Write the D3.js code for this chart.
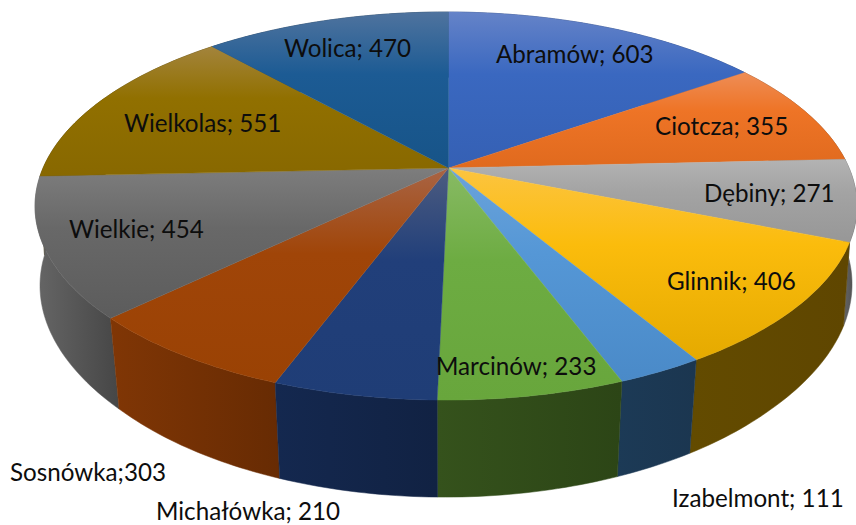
<!DOCTYPE html>
<html>
<head>
<meta charset="utf-8">
<script src="https://cdn.jsdelivr.net/npm/d3@7"></script>
<style>
    html, body { margin: 0; padding: 0; background: #fff; }
    svg { display: block; }
    text { font-family: Lato, "Open Sans", sans-serif; font-size: 24.2px; fill: #0d0d0d; }
</style>
</head>
<body>
<div id="pie"></div>
<script>
// chart values, clockwise from the top
const names = ["Abramów", "Ciotcza", "Dębiny", "Glinnik", "Izabelmont", "Marcinów", "Michałówka", "Sosnówka", "Wielkie", "Wielkolas", "Wolica"];
const values = [603, 355, 271, 406, 111, 233, 210, 303, 454, 551, 470];

// top face gradient: light edge, base, dark edge
const topLight = ["#6583c8", "#ee8d56", "#b3b3b3", "#fcc440", "#6ba3da", "#88ba64", "#4d5c80", "#a96444", "#7d7d7d", "#a3843c", "#4f739e"];
const topBase = ["#3a68c0", "#ee7426", "#a3a3a3", "#fbbc0c", "#5597d6", "#6dac42", "#213f7a", "#a04508", "#686868", "#917000", "#1c5b94"];
const topDark = ["#3560b4", "#e06a1e", "#979797", "#e5aa00", "#4a8ac8", "#68a63c", "#1f3d76", "#9a4204", "#5c5c5c", "#886800", "#175488"];

// side wall gradient, left to right
const wallLeft = ["#1f3a70", "#7f4520", "#6a6a6a", "#634b00", "#1c3a56", "#35521c", "#14284f", "#803605", "#666666", "#4c3a00", "#102d48"];
const wallRight = ["#1f3a70", "#7f4520", "#4a4a4a", "#5f4600", "#1b3650", "#2c4516", "#112243", "#672b03", "#464646", "#4c3a00", "#102d48"];

// label anchors [x, baseline]
const labelPos = [[496, 63], [655, 135], [704, 202], [667, 290], [672, 507], [436, 375], [156, 520], [10, 481], [69, 238], [124, 132], [284, 57]];

// the drawn disc runs slightly ahead of the exact angle (degrees), measured along the rim
const warpAngles = [0, 54.7, 87, 111.5, 148.4, 158.4, 179.6, 198.7, 226.2, 267.4, 317.4, 360];
const warpOffsets = [0, 0.45, 0.35, 0.3, 0.75, 0.93, 1.7, 1.85, 0, 0.2, 0.6, 0];

class PerspectivePie {

    constructor(parentElement) {
        this.parentElement = parentElement;
        this.initVis();
    }

    initVis() {
        let vis = this;

        vis.width = 856;
        vis.height = 525;

        // apex of the slices and the perspective of the disc
        vis.cx = 448.5;
        vis.cy = 168;
        vis.rx = 403;
        vis.ry = 186.6;
        vis.depth = 0.196;
        vis.skew = 0.006;
        vis.thickness = 78;
        vis.bottomScale = 0.974;
        vis.sideFlare = 0.03;

        vis.svg = d3.select("#" + vis.parentElement).append("svg")
            .attr("width", vis.width)
            .attr("height", vis.height);

        vis.defs = vis.svg.append("defs");

        vis.pie = d3.pie().sort(null).startAngle(0).endAngle(2 * Math.PI);
        vis.line = d3.line();
        vis.warp = d3.scaleLinear().domain(warpAngles).range(warpOffsets);

        vis.wrangleData();
    }

    // angle is clockwise from the far edge, bottom = true gives the lower rim
    project(angle, bottom) {
        let vis = this;
        let a = angle + vis.warp(angle * 180 / Math.PI) * Math.PI / 180;
        let w = 1 + vis.depth * Math.cos(a) + vis.skew * Math.sin(a);
        let s2 = Math.sin(a) * Math.sin(a);
        // lower rim is a little narrower in front, nearly full width at the sides
        let sx = bottom ? vis.bottomScale + vis.sideFlare * Math.max(0, s2 - 0.5) : 1;
        let drop = bottom ? vis.thickness : 0;
        return [
            vis.cx + sx * vis.rx * Math.sin(a) / w,
            vis.cy + (drop - vis.ry * Math.cos(a)) / w
        ];
    }

    wrangleData() {
        let vis = this;

        vis.displayData = vis.pie(values).map(function (d, i) {
            let steps = Math.max(8, Math.ceil((d.endAngle - d.startAngle) * 60));
            let angles = d3.range(steps + 1).map(k => d.startAngle + (d.endAngle - d.startAngle) * k / steps);
            return {
                index: i,
                name: names[i],
                value: d.data,
                angles: angles,
                mid: (d.startAngle + d.endAngle) / 2,
                sep: names[i] === "Sosnówka" ? ";" : "; "
            };
        });

        vis.updateVis();
    }

    updateVis() {
        let vis = this;

        // gradients for each slice
        vis.displayData.forEach(function (d) {
            let top = vis.defs.append("linearGradient")
                .attr("id", "top-" + d.index)
                .attr("x1", 0).attr("y1", 0).attr("x2", 0).attr("y2", 1);
            [[0, topLight[d.index]], [0.4, topBase[d.index]], [1, topDark[d.index]]].forEach(function (s) {
                top.append("stop").attr("offset", s[0]).attr("stop-color", s[1]);
            });

            let wall = vis.defs.append("linearGradient")
                .attr("id", "wall-" + d.index)
                .attr("x1", 0).attr("y1", 0).attr("x2", 1).attr("y2", 0);
            wall.append("stop").attr("offset", 0).attr("stop-color", wallLeft[d.index]);
            wall.append("stop").attr("offset", 1).attr("stop-color", wallRight[d.index]);
        });

        // outer walls far to near, the top face hides the far ones
        let wallOrder = vis.displayData.slice().sort((a, b) => Math.cos(b.mid) - Math.cos(a.mid));

        vis.svg.append("g").attr("class", "walls")
            .selectAll("path")
            .data(wallOrder)
            .enter().append("path")
            .attr("d", function (d) {
                let upper = d.angles.map(a => vis.project(a, false));
                let lower = d.angles.map(a => vis.project(a, true)).reverse();
                return vis.line(upper.concat(lower)) + "Z";
            })
            .attr("fill", d => "url(#wall-" + d.index + ")")
            .attr("stroke", d => "url(#wall-" + d.index + ")")
            .attr("stroke-width", 0.5);

        vis.svg.append("g").attr("class", "slices")
            .selectAll("path")
            .data(vis.displayData)
            .enter().append("path")
            .attr("d", function (d) {
                let rim = d.angles.map(a => vis.project(a, false));
                return vis.line([[vis.cx, vis.cy]].concat(rim)) + "Z";
            })
            .attr("fill", d => "url(#top-" + d.index + ")")
            .attr("stroke", d => "url(#top-" + d.index + ")")
            .attr("stroke-width", 0.4);

        vis.svg.append("g").attr("class", "labels")
            .selectAll("text")
            .data(vis.displayData)
            .enter().append("text")
            .attr("x", d => labelPos[d.index][0])
            .attr("y", d => labelPos[d.index][1])
            .text(d => d.name + d.sep + d.value);
    }
}

let myPie = new PerspectivePie("pie");
</script>
</body>
</html>
